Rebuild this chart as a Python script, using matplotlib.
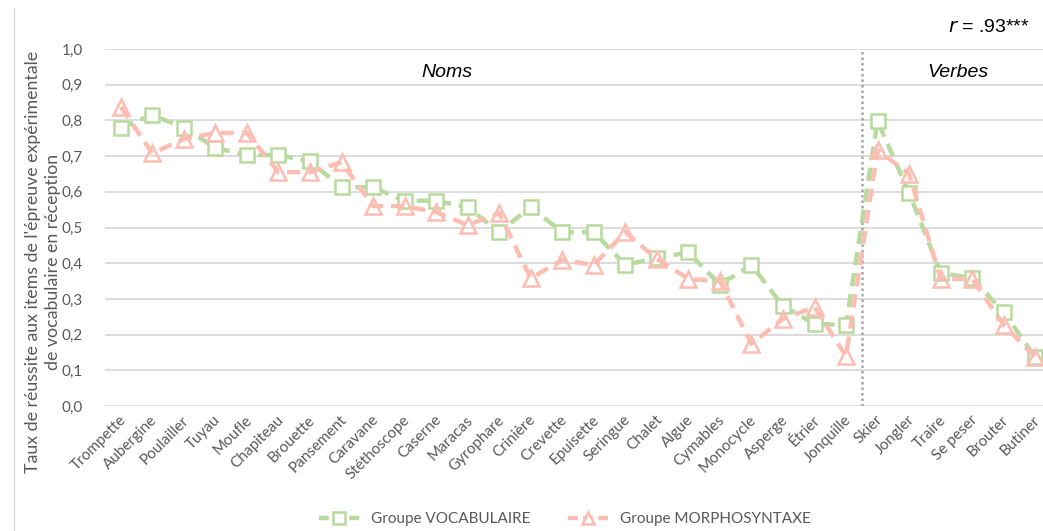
import matplotlib
matplotlib.use("Agg")
import matplotlib.pyplot as plt
from matplotlib.lines import Line2D
from matplotlib.transforms import ScaledTranslation

categories = ["Trompette", "Aubergine", "Poulailler", "Tuyau", "Moufle", "Chapiteau",
              "Brouette", "Pansement", "Caravane", "Stéthoscope", "Caserne", "Maracas",
              "Gyrophare", "Crinière", "Crevette", "Epuisette", "Seringue", "Chalet",
              "Algue", "Cymables", "Monocycle", "Asperge", "Étrier", "Jonquille",
              "Skier", "Jongler", "Traire", "Se peser", "Brouter", "Butiner"]

vocabulaire = [0.78, 0.815, 0.78, 0.723, 0.703, 0.703, 0.685, 0.613, 0.613, 0.575,
               0.575, 0.557, 0.487, 0.557, 0.487, 0.487, 0.395, 0.415, 0.43, 0.34,
               0.395, 0.28, 0.23, 0.227, 0.798, 0.597, 0.373, 0.358, 0.263, 0.137]

morphosyntaxe = [0.838, 0.708, 0.748, 0.765, 0.765, 0.655, 0.655, 0.683, 0.56, 0.56,
                 0.543, 0.507, 0.54, 0.358, 0.409, 0.395, 0.487, 0.412, 0.356, 0.35,
                 0.174, 0.244, 0.277, 0.14, 0.717, 0.65, 0.356, 0.356, 0.227, 0.137]

yticks = [0.0, 0.1, 0.2, 0.3, 0.4, 0.5, 0.6, 0.7, 0.8, 0.9, 1.0]
ytick_labels = ["0,0", "0,1", "0,2", "0,3", "0,4", "0,5", "0,6", "0,7", "0,8", "0,9", "1,0"]

green = "#B9DA9F"
pink = "#FDBDB2"
grey_text = "#595959"
grid_c = "#D9D9D9"
tick_font = "Lato"

W, H = 1043, 531
fig = plt.figure(figsize=(W / 100, H / 100), dpi=100)
fig.patch.set_facecolor("white")

left_px, right_px, top_px, bottom_px = 105, 1051, 49, 406
ax = fig.add_axes([left_px / W, 1 - bottom_px / H, (right_px - left_px) / W,
                   (bottom_px - top_px) / H])
ax.set_xlim(-0.5, len(categories) - 0.5)
ax.set_ylim(0, 1.0)

ax.set_yticks(yticks)
ax.set_yticklabels(ytick_labels, fontfamily=tick_font, fontsize=11, color=grey_text)
ax.yaxis.grid(True, color=grid_c, linewidth=1.3)
ax.set_axisbelow(True)
ax.tick_params(axis="y", length=0, pad=16)
ax.tick_params(axis="x", length=0, pad=5)
for s in ax.spines.values():
    s.set_visible(False)

x = list(range(len(categories)))
ax.set_xticks(x)
ax.set_xticklabels(categories, rotation=45, ha="right", rotation_mode="anchor",
                   fontfamily=tick_font, fontsize=11, color=grey_text)
shift = ScaledTranslation(-2 / 100, 0, fig.dpi_scale_trans)
for lbl in ax.get_xticklabels():
    lbl.set_transform(lbl.get_transform() + shift)

dash = (3.0, 1.8)
ax.plot(x, vocabulaire, color=green, lw=3.2, dashes=dash, marker="s", ms=10,
        mfc="white", mec=green, mew=1.8, zorder=3, clip_on=False)
ax.plot(x, morphosyntaxe, color=pink, lw=3.2, dashes=dash, marker="^", ms=11,
        mfc="none", mec=pink, mew=1.8, zorder=4, clip_on=False)

# separator between nouns and verbs
ax.axvline(23.5, ymin=0, ymax=1.0, color="#A6A6A6", lw=1.8, linestyle=(0, (1, 1.2)), zorder=2)

ax.text(10.35, 0.935, "Noms", ha="center", va="center", fontsize=14,
        fontstyle="italic", fontfamily="Liberation Sans", color="black")
ax.text(26.55, 0.935, "Verbes", ha="center", va="center", fontsize=14,
        fontstyle="italic", fontfamily="Liberation Sans", color="black")

fig.text(1030 / W, 1 - 27 / H, r"$\it{r}$" + " = .93***", ha="right", va="center",
         fontsize=14, fontfamily="Liberation Sans", color="black")

fig.text(43 / W, 1 - 262 / H,
         "Taux de réussite aux items de l'épreuve expérimentale\nde vocabulaire en réception",
         rotation=90, ha="center", va="center", multialignment="center",
         fontsize=12.8, fontfamily=tick_font, color=grey_text, linespacing=1.3)

# left border line
fig.add_artist(Line2D([14 / W, 14 / W], [0, 1 - 8 / H], transform=fig.transFigure,
                      color="#D9D9D9", lw=1))

handles = [
    Line2D([], [], color=green, lw=3.2, dashes=(2.2, 1.2), marker="s", ms=8, mfc="white",
           mec=green, mew=1.8),
    Line2D([], [], color=pink, lw=3.2, dashes=(2.2, 1.2), marker="^", ms=9, mfc="white",
           mec=pink, mew=1.8),
]
fig.legend(handles, ["Groupe VOCABULAIRE", "Groupe MORPHOSYNTAXE"], loc="center",
           bbox_to_anchor=(565 / W, 1 - 519 / H), ncol=2, frameon=False,
           prop={"family": tick_font, "size": 11}, labelcolor=grey_text,
           handlelength=2.6, columnspacing=2.5, handletextpad=0.8)

fig.savefig("out.png", dpi=100, facecolor="white")
